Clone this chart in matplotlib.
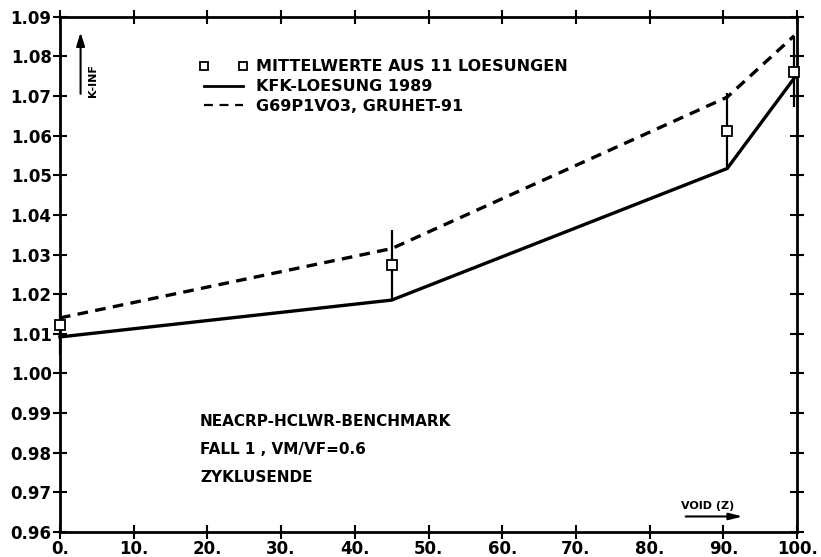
import matplotlib
matplotlib.use("Agg")
import matplotlib.pyplot as plt
from matplotlib.lines import Line2D

plt.rcParams['font.family'] = ['Liberation Sans Narrow', 'DejaVu Sans']
plt.rcParams['font.weight'] = 'bold'

# data
mean_x = [0.0, 45.0, 90.5, 99.6]
mean_y = [1.0122, 1.0274, 1.0612, 1.0761]
err_lo = [1.0047, 1.0185, 1.0519, 1.0673]
err_hi = [1.0198, 1.0362, 1.0708, 1.0850]

kfk_x = [0.0, 45.0, 90.5, 99.6]
kfk_y = [1.0092, 1.0185, 1.0517, 1.0745]

g69_x = [0.0, 45.0, 90.5, 99.6]
g69_y = [1.0140, 1.0315, 1.0697, 1.0852]

xticks = [0, 10, 20, 30, 40, 50, 60, 70, 80, 90, 100]
xtick_labels = ["0.", "10.", "20.", "30.", "40.", "50.", "60.", "70.", "80.", "90.", "100."]
yticks = [0.96, 0.97, 0.98, 0.99, 1.00, 1.01, 1.02, 1.03, 1.04, 1.05, 1.06, 1.07, 1.08, 1.09]
ytick_labels = ["0.96", "0.97", "0.98", "0.99", "1.00", "1.01", "1.02", "1.03", "1.04", "1.05", "1.06", "1.07", "1.08", "1.09"]

fig = plt.figure(figsize=(8.21, 5.57), dpi=100)
ax = fig.add_axes([0.073, 0.045, 0.898, 0.925])

ax.vlines(mean_x, err_lo, err_hi, colors='black', lw=1.6, clip_on=False)
ax.plot(kfk_x, kfk_y, color='black', lw=2.4, solid_joinstyle='miter', clip_on=False)
ax.plot(g69_x, g69_y, color='black', lw=2.4, dashes=(3.2, 2.2), clip_on=False)
ax.plot(mean_x, mean_y, 's', ms=6.5, mfc='white', mec='black', mew=1.3, ls='none',
        clip_on=False, zorder=5)

ax.set_xlim(0, 100)
ax.set_ylim(0.96, 1.09)
ax.set_xticks(xticks)
ax.set_xticklabels(xtick_labels)
ax.set_yticks(yticks)
ax.set_yticklabels(ytick_labels)
ax.tick_params(direction='inout', length=10, width=1.5, labelsize=12,
               top=True, right=True, pad=1)
for lab in ax.get_xticklabels() + ax.get_yticklabels():
    lab.set_fontweight('bold')
for s in ax.spines.values():
    s.set_linewidth(2.0)

handles = [
    Line2D([], [], marker='s', ls='none', ms=6, mfc='white', mec='black', mew=1.3),
    Line2D([], [], color='black', lw=2.0),
    Line2D([], [], color='black', lw=1.6, dashes=(4, 3)),
]
labels = ["MITTELWERTE AUS 11 LOESUNGEN", "KFK-LOESUNG 1989", "G69P1VO3, GRUHET-91"]
leg = ax.legend(handles, labels, loc='upper left', bbox_to_anchor=(0.17, 0.945),
                frameon=False, numpoints=2, handlelength=3.0, handletextpad=0.5,
                labelspacing=0.3, prop={'weight': 'bold', 'size': 11.5})

ax.text(0.19, 0.215, "NEACRP-HCLWR-BENCHMARK", transform=ax.transAxes,
        fontsize=11, fontweight='bold', va='center')
ax.text(0.19, 0.16, "FALL 1 , VM/VF=0.6", transform=ax.transAxes,
        fontsize=11, fontweight='bold', va='center')
ax.text(0.19, 0.105, "ZYKLUSENDE", transform=ax.transAxes,
        fontsize=11, fontweight='bold', va='center')

# y-axis label with arrow
ax.annotate("", xy=(0.028, 0.975), xytext=(0.028, 0.845), xycoords='axes fraction',
            arrowprops=dict(arrowstyle='-|>,head_length=0.8,head_width=0.25', color='black', lw=1.5))
ax.text(0.045, 0.876, "K-INF", transform=ax.transAxes, rotation=90,
        fontsize=8, fontweight='bold', va='center', ha='center')

# x-axis label with arrow
ax.text(0.878, 0.05, "VOID (Z)", transform=ax.transAxes,
        fontsize=8, fontweight='bold', va='center', ha='center')
ax.annotate("", xy=(0.93, 0.03), xytext=(0.845, 0.03), xycoords='axes fraction',
            arrowprops=dict(arrowstyle='-|>,head_length=0.8,head_width=0.2', color='black', lw=1.5))

fig.savefig("out.png", dpi=100)
